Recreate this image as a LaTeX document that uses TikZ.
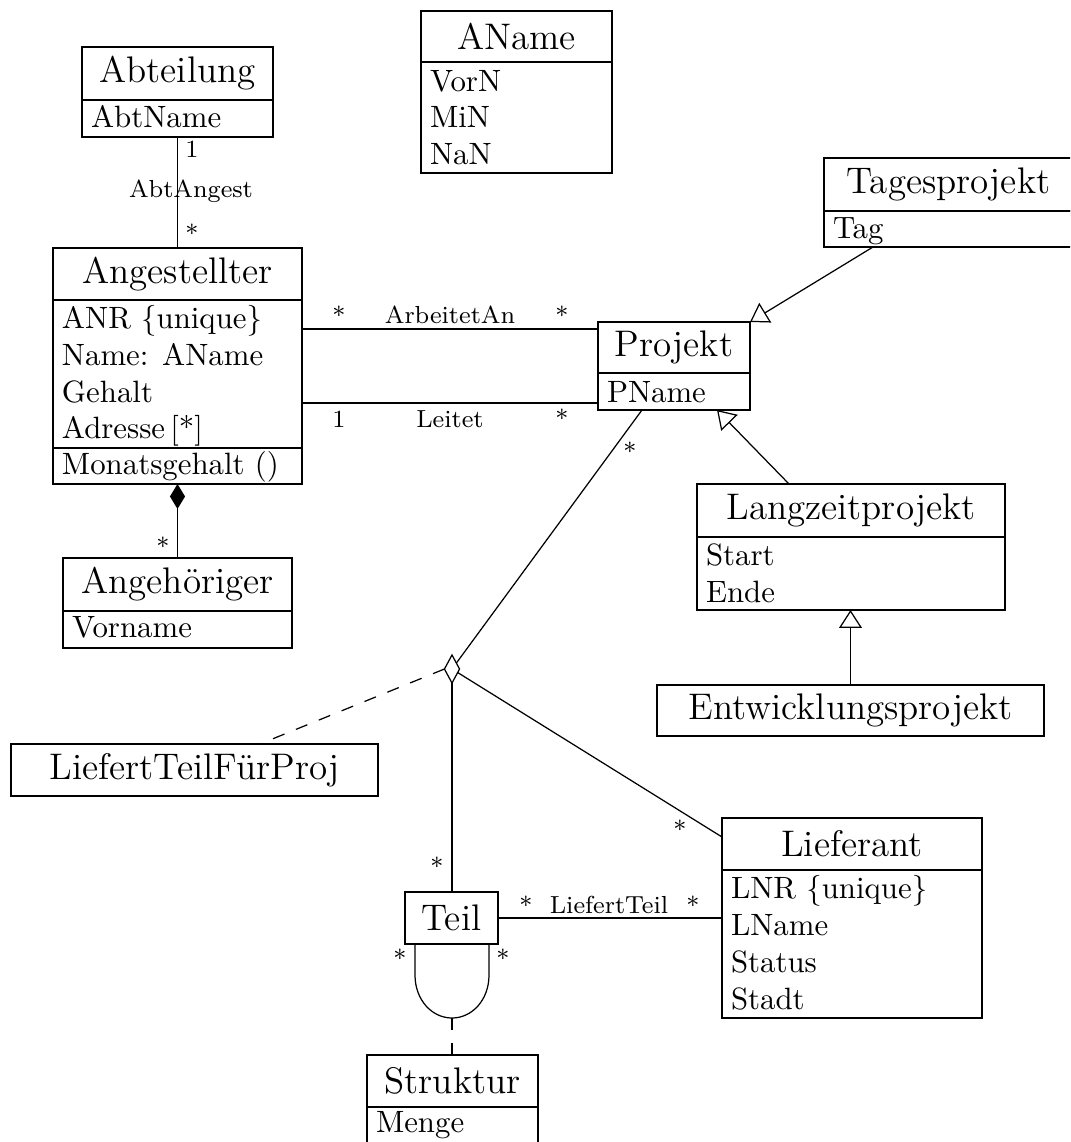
\documentclass[tikz,border=0pt]{standalone}
\usepackage{fontspec}
\usetikzlibrary{arrows.meta,shapes.geometric,fit,calc}
\begin{document}
\begin{tikzpicture}[x=0.3243pt,y=-0.3243pt,
  line width=0.4pt,
  every node/.style={inner sep=0pt, outer sep=0pt},
  box/.style={draw},
  sz/.style 2 args={minimum width=#1*0.3243pt, minimum height=#2*0.3243pt},
  title/.style={box, font=\large},
  att/.style={anchor=base west},
  lab/.style={font=\footnotesize, anchor=base},
  gen/.style={-{Triangle[open, length=5.8pt, width=7.4pt]}},
  comp/.style={{Diamond[length=8.1pt, width=4.9pt]}-},
  dashlink/.style={dash pattern=on 4pt off 4pt}]
\clip (0,0) rectangle (1070,1142);

% ---------- classes ----------
% AName
\node[title, sz={191}{51}] (aname) at (516.5,36.5) {AName};
\node[box, fit={(421,62) (612,173)}] (anameA) {};
\node[att] (an1) at (430,92) {VorN};
\node[att] (an2) at (430,128) {MiN};
\node[att] (an3) at (430,165) {NaN};

% Abteilung
\node[title, sz={191}{53}] (abt) at (177.5,73.5) {Abteilung};
\node[box, fit={(82,100) (273,137)}] (abtA) {};
\node[att] (ab1) at (91,128) {AbtName};

% Angestellter
\node[title, sz={249}{52}] (ang) at (177.5,274) {Angestellter};
\node[box, fit={(53,300) (302,448)}] (angA) {};
\node[box, fit={(53,448) (302,484)}] (angO) {};
\node[att] (ag1) at (62,328) {ANR \{unique\}};
\node[att] (ag2) at (62,365) {Name: AName};
\node[att] (ag3) at (62,402) {Gehalt};
\node[att] (ag4) at (62,438) {Adresse\,[*]};
\node[att] (ag5) at (62,474) {Monatsgehalt ()};

% Angehöriger
\node[title, sz={229}{53}] (angh) at (177.5,584.5) {Angehöriger};
\node[box, fit={(63,611) (292,648)}] (anghA) {};
\node[att] (ah1) at (72,637) {Vorname};

% Tagesprojekt
\node[title, sz={249}{53}] (tag) at (948.5,184.5) {Tagesprojekt};
\node[box, fit={(824,211) (1073,247)}] (tagA) {};
\node[att] (tg1) at (833,238) {Tag};

% Projekt
\node[title, sz={152}{51}] (proj) at (674,347.5) {Projekt};
\node[box, fit={(598,373) (750,410)}] (projA) {};
\node[att] (pj1) at (607,402) {PName};

% Langzeitprojekt
\node[title, sz={308}{53}] (lz) at (851,510.5) {Langzeitprojekt};
\node[box, fit={(697,537) (1005,610)}] (lzA) {};
\node[att] (lz1) at (706,565) {Start};
\node[att] (lz2) at (706,602) {Ende};

% Entwicklungsprojekt
\node[title, sz={387}{51}] (ent) at (850.5,710.5) {Entwicklungsprojekt};

% LiefertTeilFürProj
\node[title, sz={367}{52}] (ltfp) at (194.5,770) {LiefertTeilFürProj};

% Teil
\node[title, sz={93}{52}] (teil) at (451.5,918) {Teil};

% Lieferant
\node[title, sz={260}{52}] (lief) at (852,844) {Lieferant};
\node[box, fit={(722,870) (982,1018)}] (liefA) {};
\node[att] (lf1) at (731,898) {LNR \{unique\}};
\node[att] (lf2) at (731,935) {LName};
\node[att] (lf3) at (731,972) {Status};
\node[att] (lf4) at (731,1009) {Stadt};

% Struktur
\node[title, sz={171}{52}] (strk) at (452.5,1081) {Struktur};
\node[box, fit={(367,1107) (538,1146)}] (strkA) {};
\node[att] (st1) at (376,1132) {Menge};

% ---------- associations ----------
% AbtAngest
\draw (abtA.south) -- (ang.north);
\node[lab] (aa1) at (192,158) {1};
\node[lab] (aa2) at (191,198) {AbtAngest};
\node[lab] (aa3) at (192,242) {*};

% ArbeitetAn
\coordinate (arbY) at (450,329);
\draw (arbY -| angA.east) -- (arbY -| proj.west);
\node[lab] (ar1) at (339,324) {*};
\node[lab] (ar2) at (450,323) {ArbeitetAn};
\node[lab] (ar3) at (562,324) {*};

% Leitet
\coordinate (leiY) at (450,403);
\draw (leiY -| angA.east) -- (leiY -| projA.west);
\node[lab] (le1) at (339,427) {1};
\node[lab] (le2) at (450,427) {Leitet};
\node[lab] (le3) at (562,427) {*};

% generalizations
\draw[gen] ($(tagA.south west)+(49,0)$) -- (proj.north east);
\draw[gen] ($(lz.north west)+(92,0)$) -- ($(projA.south west)+(119,0)$);
\draw[gen] (ent.north) -- (ent.north |- lzA.south);

% composition
\draw[comp] (angO.south) -- (angh.north);
\node[lab] (cp1) at (163,555) {*};

% ternary association
\node[draw, diamond, minimum width=4.9pt, minimum height=9.1pt] (nary) at (452,669) {};
\draw (nary) -- ($(projA.south west)+(44,0)$);
\node[lab] (na1) at (630,460) {*};
\draw[dashlink] (nary.west) -- ($(ltfp.north west)+(249,0)$);
\draw (nary.south) -- (nary.south |- teil.north);
\node[lab] (na2) at (437,875) {*};
\draw (nary) -- ($(lief.north west)+(0,19)$);
\node[lab] (na3) at (680,838) {*};

% LiefertTeil
\draw (teil.east) -- (teil.east -| liefA.west);
\node[lab] (lt1) at (526,914) {*};
\node[lab] (lt2) at (609,913) {LiefertTeil};
\node[lab] (lt3) at (693,914) {*};

% Struktur (reflexive on Teil)
\coordinate (loopbot) at ($(teil.south)+(0.5,74)$);
\draw ($(teil.south west)+(10,0)$) -- ++(0,31)
  .. controls +(0,25) and +(-20,0) .. (loopbot)
  .. controls +(20,0) and +(0,25) .. ($(teil.south east)+(-9,31)$) -- ++(0,-31);
\node[lab] (sr1) at (400,967) {*};
\node[lab] (sr2) at (503,967) {*};
\draw[dashlink] (loopbot) -- (loopbot |- strk.north);
\end{tikzpicture}
\end{document}
